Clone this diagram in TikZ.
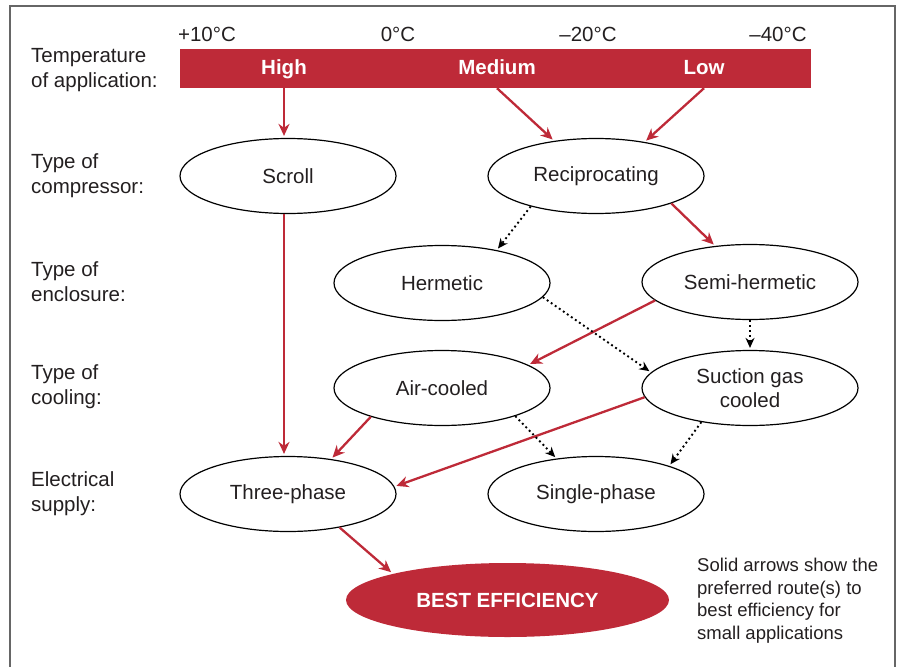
\documentclass[tikz,border=0pt]{standalone}
\usepackage{fontspec}
\setmainfont{Liberation Sans}
\usetikzlibrary{shapes.geometric,arrows.meta}
\definecolor{tempred}{RGB}{190,42,56}
\definecolor{inkgray}{RGB}{35,31,32}

\begin{document}
\begin{tikzpicture}[x=1pt,y=-1pt,
  font=\fontsize{20.5}{25}\selectfont,text=inkgray,
  choice/.style={ellipse,draw=black,line width=1.2pt,minimum width=216pt,minimum height=75pt,inner sep=0pt},
  rowlabel/.style={anchor=west,align=left,inner sep=0pt},
  templabel/.style={anchor=base,inner sep=0pt},
  barlabel/.style={anchor=base,inner sep=0pt,text=white,font=\fontsize{20.5}{25}\selectfont\bfseries},
  preferred/.style={color=tempred,line width=2.3pt,-{Stealth[length=12pt,width=11pt]},shorten >=2pt},
  possible/.style={color=black,line width=1.9pt,dash pattern=on 1.9pt off 3pt,-{Stealth[length=10pt,width=9pt]},shorten >=2pt}]
 \useasboundingbox (0,0) rectangle (901,666);
 \draw[line width=1.8pt,draw=black!60] (10,670) -- (10,6) -- (895,6) -- (895,670);

 \node[rowlabel] (l_temp) at (31,70) {Temperature\\of application:};
 \node[rowlabel] (l_comp) at (31,176) {Type of\\compressor:};
 \node[rowlabel] (l_encl) at (31,282) {Type of\\enclosure:};
 \node[rowlabel] (l_cool) at (31,387) {Type of\\cooling:};
 \node[rowlabel] (l_elec) at (31,494) {Electrical\\supply:};

 \node[templabel] (t_p10) at (207,42) {+10°C};
 \node[templabel] (t_0) at (398,42) {0°C};
 \node[templabel] (t_m20) at (588,42) {–20°C};
 \node[templabel] (t_m40) at (778,42) {–40°C};

 \node[fill=tempred,minimum width=631pt,minimum height=39pt,inner sep=0pt] (bar) at (495.5,68.5) {};
 \node[barlabel] (high) at (284,75) {High};
 \node[barlabel] (medium) at (497,75) {Medium};
 \node[barlabel] (low) at (704,75) {Low};

 \node[choice] (scroll) at (288,176) {Scroll};
 \node[choice] (recip) at (596,176) {Reciprocating};
 \node[choice] (herm) at (442,283) {Hermetic};
 \node[choice] (semi) at (750,282) {Semi-hermetic};
 \node[choice] (air) at (442,388) {Air-cooled};
 \node[choice,align=center,font=\fontsize{20.5}{24}\selectfont] (suction) at (750,388) {Suction gas\\cooled};
 \node[choice] (three) at (288,494) {Three-phase};
 \node[choice] (single) at (596,494) {Single-phase};
 \node[choice,draw=none,fill=tempred,minimum width=323pt,minimum height=74pt,text=white,
   font=\fontsize{20.5}{25}\selectfont\bfseries] (best) at (507.5,600) {BEST EFFICIENCY};

 \node[anchor=north west,align=left,inner sep=0pt,font=\fontsize{18.5}{22.5}\selectfont] (note) at (697,558)
   {Solid arrows show the\\preferred route(s) to\\best efficiency for\\small applications};

 \path[preferred]
 (bar.south -| high) edge (scroll.north -| high)
 (bar.south -| medium) edge (recip.140)
 (bar.south -| low) edge (recip.35)
 (scroll.south -| high) edge (three.north -| high)
 (recip.-20) edge (semi.134)
 (semi.191) edge (air.15)
 (air.202) edge (three.39)
 (suction.185) edge (three.4)
 (three.-33) edge (best.167);

 \path[possible]
 (recip.205) edge (herm.31)
 (herm.-8) edge (suction.171)
 (semi.south) edge (suction.north)
 (air.-21) edge (single.138)
 (suction.215) edge (single.21);
\end{tikzpicture}
\end{document}
